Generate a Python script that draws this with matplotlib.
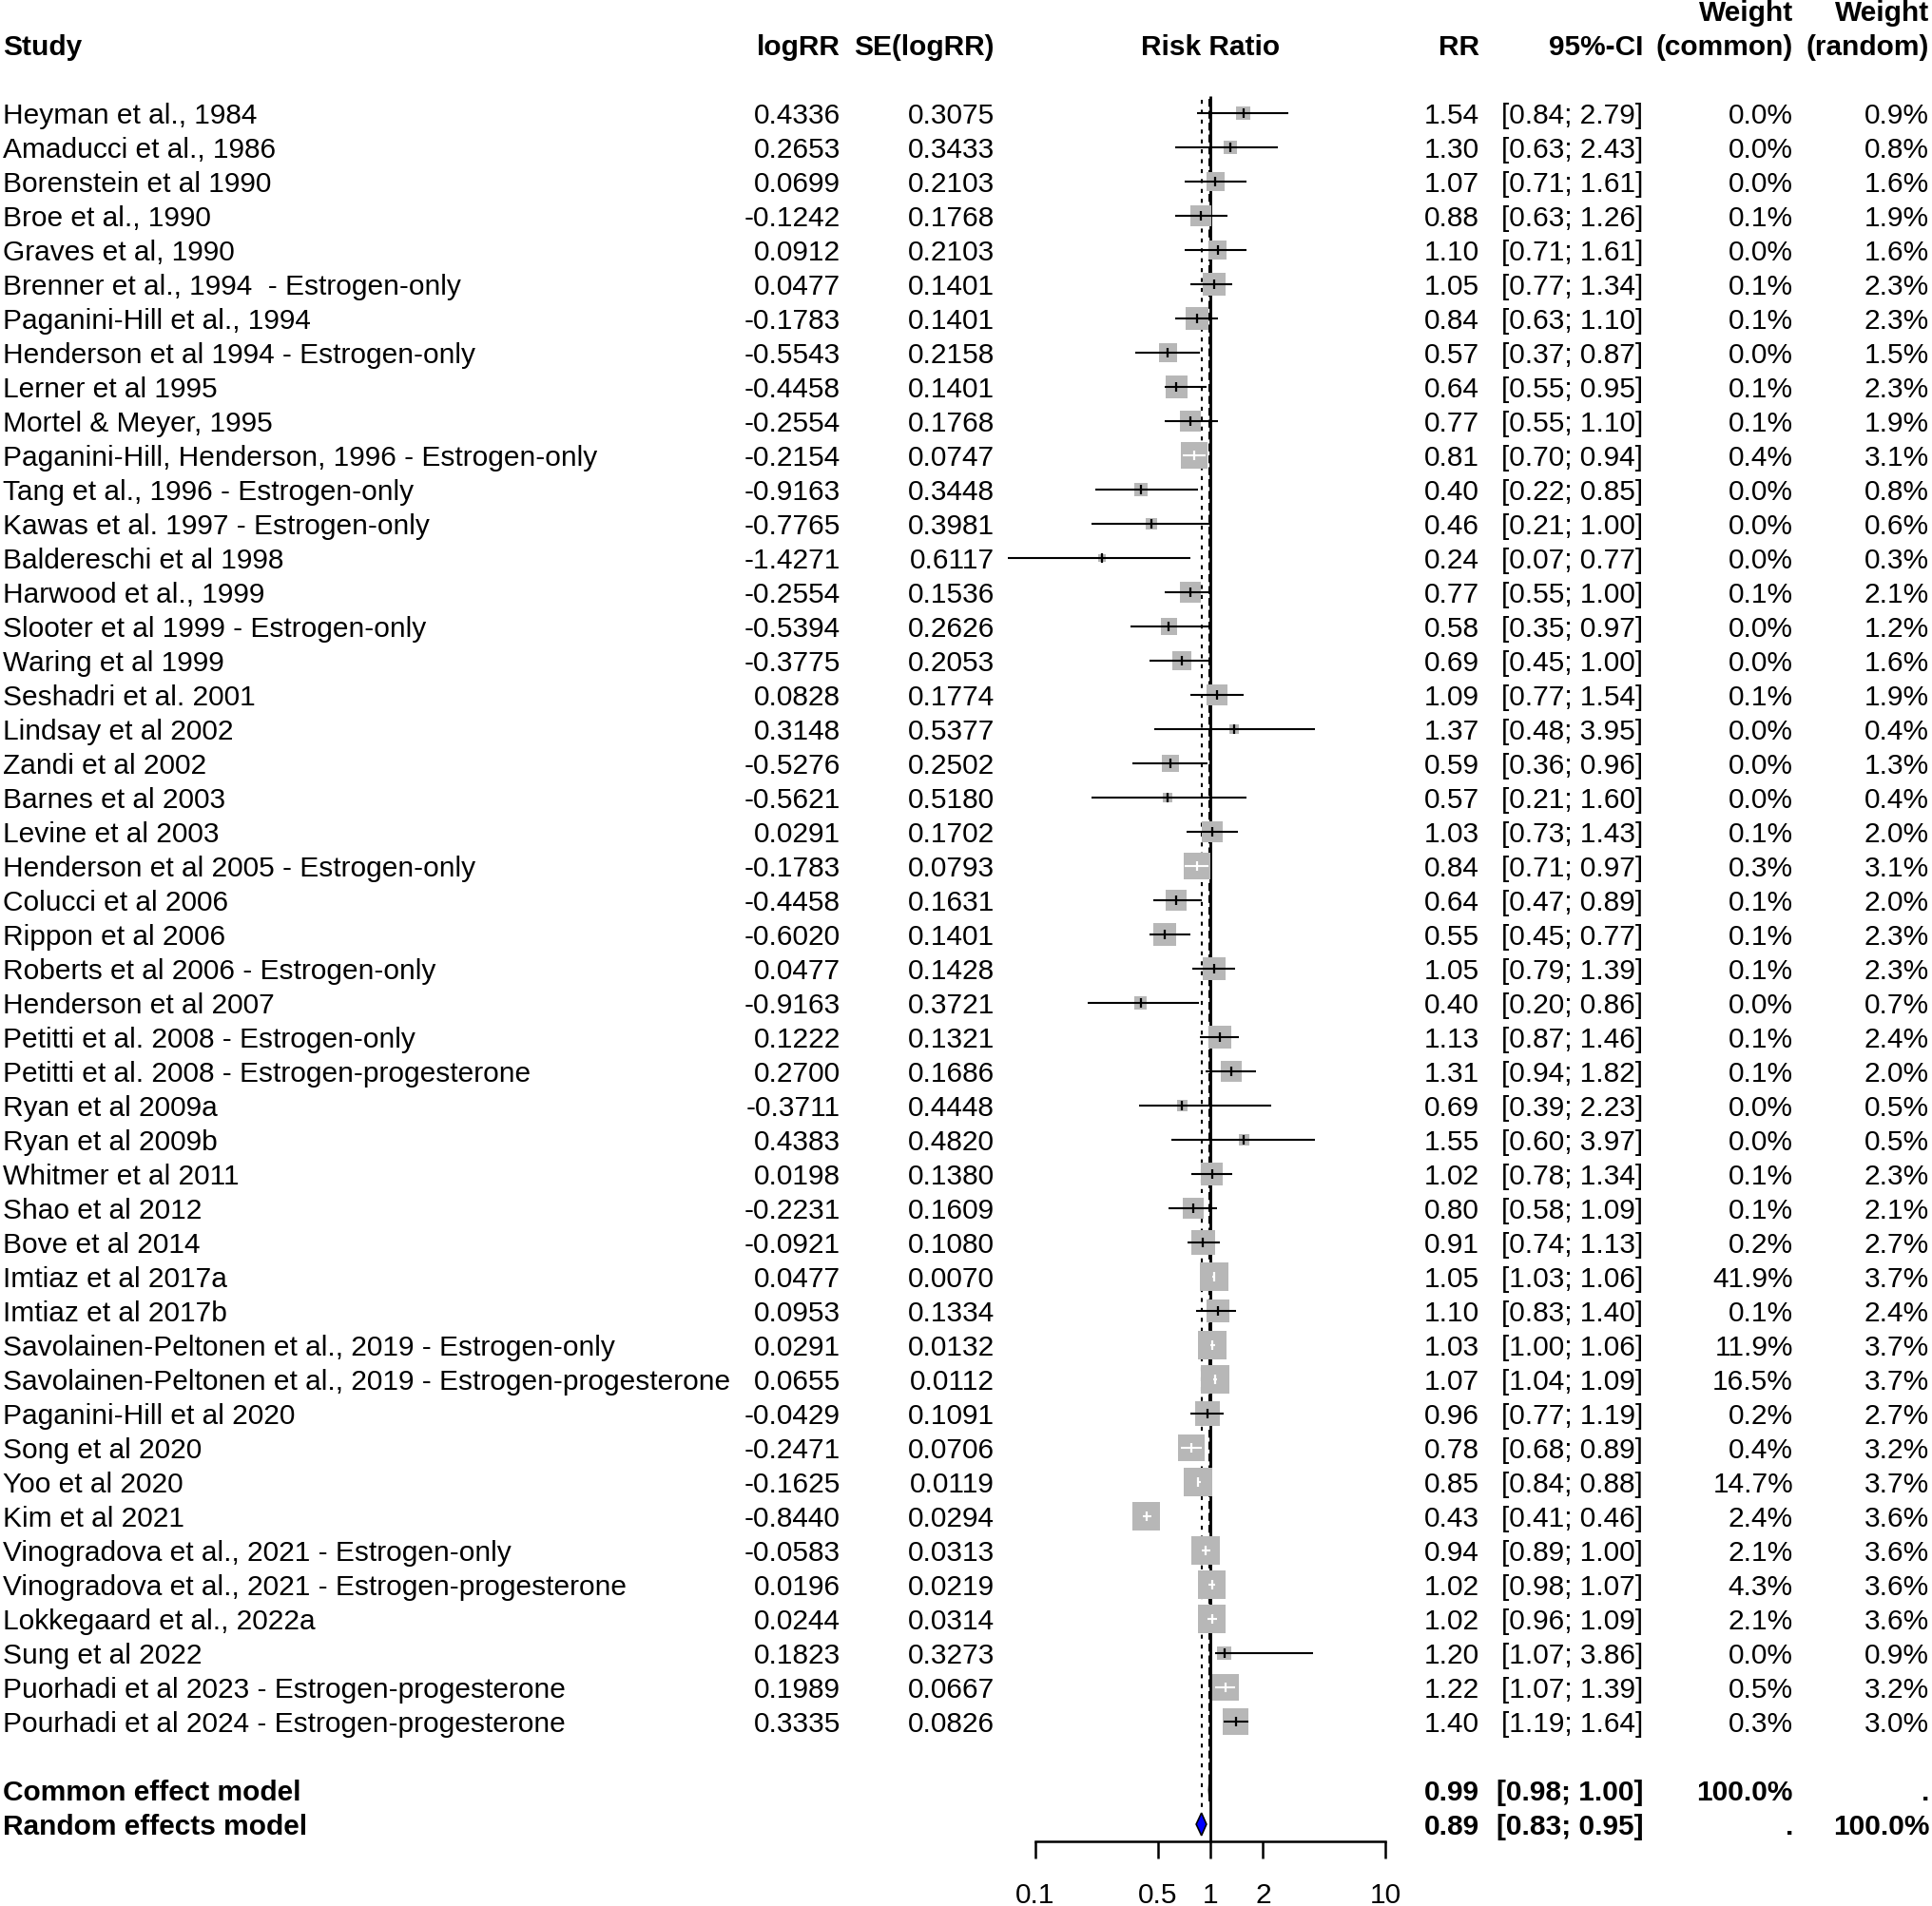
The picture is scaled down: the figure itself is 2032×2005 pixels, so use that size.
import numpy as np
import matplotlib
matplotlib.use("Agg")
import matplotlib.pyplot as plt
from matplotlib.patches import Polygon
from matplotlib.ticker import NullLocator

# --- data ---
studies = [
    "Heyman et al., 1984", "Amaducci et al., 1986", "Borenstein et al 1990",
    "Broe et al., 1990", "Graves et al, 1990", "Brenner et al., 1994  - Estrogen-only",
    "Paganini-Hill et al., 1994", "Henderson et al 1994 - Estrogen-only",
    "Lerner et al 1995", "Mortel & Meyer, 1995",
    "Paganini-Hill, Henderson, 1996 - Estrogen-only", "Tang et al., 1996 - Estrogen-only",
    "Kawas et al. 1997 - Estrogen-only", "Baldereschi et al 1998", "Harwood et al., 1999",
    "Slooter et al 1999 - Estrogen-only", "Waring et al 1999", "Seshadri et al. 2001",
    "Lindsay et al 2002", "Zandi et al 2002", "Barnes et al 2003", "Levine et al 2003",
    "Henderson et al 2005 - Estrogen-only", "Colucci et al 2006", "Rippon et al 2006",
    "Roberts et al 2006 - Estrogen-only", "Henderson et al 2007",
    "Petitti et al. 2008 - Estrogen-only", "Petitti et al. 2008 - Estrogen-progesterone",
    "Ryan et al 2009a", "Ryan et al 2009b", "Whitmer et al 2011", "Shao et al 2012",
    "Bove et al 2014", "Imtiaz et al 2017a", "Imtiaz et al 2017b",
    "Savolainen-Peltonen et al., 2019 - Estrogen-only",
    "Savolainen-Peltonen et al., 2019 - Estrogen-progesterone",
    "Paganini-Hill et al 2020", "Song et al 2020", "Yoo et al 2020", "Kim et al 2021",
    "Vinogradova et al., 2021 - Estrogen-only",
    "Vinogradova et al., 2021 - Estrogen-progesterone", "Lokkegaard et al., 2022a",
    "Sung et al 2022", "Puorhadi et al 2023 - Estrogen-progesterone",
    "Pourhadi et al 2024 - Estrogen-progesterone",
]
log_rr = [0.4336, 0.2653, 0.0699, -0.1242, 0.0912, 0.0477, -0.1783, -0.5543, -0.4458,
          -0.2554, -0.2154, -0.9163, -0.7765, -1.4271, -0.2554, -0.5394, -0.3775, 0.0828,
          0.3148, -0.5276, -0.5621, 0.0291, -0.1783, -0.4458, -0.6020, 0.0477, -0.9163,
          0.1222, 0.2700, -0.3711, 0.4383, 0.0198, -0.2231, -0.0921, 0.0477, 0.0953,
          0.0291, 0.0655, -0.0429, -0.2471, -0.1625, -0.8440, -0.0583, 0.0196, 0.0244,
          0.1823, 0.1989, 0.3335]
se_log_rr = [0.3075, 0.3433, 0.2103, 0.1768, 0.2103, 0.1401, 0.1401, 0.2158, 0.1401,
             0.1768, 0.0747, 0.3448, 0.3981, 0.6117, 0.1536, 0.2626, 0.2053, 0.1774,
             0.5377, 0.2502, 0.5180, 0.1702, 0.0793, 0.1631, 0.1401, 0.1428, 0.3721,
             0.1321, 0.1686, 0.4448, 0.4820, 0.1380, 0.1609, 0.1080, 0.0070, 0.1334,
             0.0132, 0.0112, 0.1091, 0.0706, 0.0119, 0.0294, 0.0313, 0.0219, 0.0314,
             0.3273, 0.0667, 0.0826]
rr = [1.54, 1.30, 1.07, 0.88, 1.10, 1.05, 0.84, 0.57, 0.64, 0.77, 0.81, 0.40, 0.46, 0.24,
      0.77, 0.58, 0.69, 1.09, 1.37, 0.59, 0.57, 1.03, 0.84, 0.64, 0.55, 1.05, 0.40, 1.13,
      1.31, 0.69, 1.55, 1.02, 0.80, 0.91, 1.05, 1.10, 1.03, 1.07, 0.96, 0.78, 0.85, 0.43,
      0.94, 1.02, 1.02, 1.20, 1.22, 1.40]
ci_lower = [0.84, 0.63, 0.71, 0.63, 0.71, 0.77, 0.63, 0.37, 0.55, 0.55, 0.70, 0.22, 0.21,
            0.07, 0.55, 0.35, 0.45, 0.77, 0.48, 0.36, 0.21, 0.73, 0.71, 0.47, 0.45, 0.79,
            0.20, 0.87, 0.94, 0.39, 0.60, 0.78, 0.58, 0.74, 1.03, 0.83, 1.00, 1.04, 0.77,
            0.68, 0.84, 0.41, 0.89, 0.98, 0.96, 1.07, 1.07, 1.19]
ci_upper = [2.79, 2.43, 1.61, 1.26, 1.61, 1.34, 1.10, 0.87, 0.95, 1.10, 0.94, 0.85, 1.00,
            0.77, 1.00, 0.97, 1.00, 1.54, 3.95, 0.96, 1.60, 1.43, 0.97, 0.89, 0.77, 1.39,
            0.86, 1.46, 1.82, 2.23, 3.97, 1.34, 1.09, 1.13, 1.06, 1.40, 1.06, 1.09, 1.19,
            0.89, 0.88, 0.46, 1.00, 1.07, 1.09, 3.86, 1.39, 1.64]
w_common = [0.0, 0.0, 0.0, 0.1, 0.0, 0.1, 0.1, 0.0, 0.1, 0.1, 0.4, 0.0, 0.0, 0.0, 0.1, 0.0,
            0.0, 0.1, 0.0, 0.0, 0.0, 0.1, 0.3, 0.1, 0.1, 0.1, 0.0, 0.1, 0.1, 0.0, 0.0, 0.1,
            0.1, 0.2, 41.9, 0.1, 11.9, 16.5, 0.2, 0.4, 14.7, 2.4, 2.1, 4.3, 2.1, 0.0, 0.5, 0.3]
w_random = [0.9, 0.8, 1.6, 1.9, 1.6, 2.3, 2.3, 1.5, 2.3, 1.9, 3.1, 0.8, 0.6, 0.3, 2.1, 1.2,
            1.6, 1.9, 0.4, 1.3, 0.4, 2.0, 3.1, 2.0, 2.3, 2.3, 0.7, 2.4, 2.0, 0.5, 0.5, 2.3,
            2.1, 2.7, 3.7, 2.4, 3.7, 3.7, 2.7, 3.2, 3.7, 3.6, 3.6, 3.6, 3.6, 0.9, 3.2, 3.0]

model_names = ["Common effect model", "Random effects model"]
model_rr = [0.99, 0.89]
model_lower = [0.98, 0.83]
model_upper = [1.00, 0.95]
model_w_common = ["100.0%", "."]
model_w_random = [".", "100.0%"]

axis_ticks = [0.1, 0.5, 1, 2, 10]
axis_tick_labels = ["0.1", "0.5", "1", "2", "10"]

# --- layout (pixels of the 2032x2005 canvas) ---
W, H, DPI = 2032, 2005, 100
ROW0, ROW_H = 119, 36
FS = 21.5
FONT = ["Liberation Sans", "DejaVu Sans"]
X_STUDY, X_LOGRR, X_SE, X_RR, X_CI, X_WC, X_WR = 3, 884, 1046, 1556, 1728, 1886, 2029
FOREST_L, FOREST_R = 1089, 1457          # pixel span of 0.1 .. 10
PX_PER_DECADE = (FOREST_R - FOREST_L) / 2.0
BOX_K = 15.6                               # square side (px) per sqrt(weight)
GREY = "#b7b7b7"

r_top = -ROW0 / ROW_H
r_bot = (H - ROW0) / ROW_H
n = len(studies)
r_common, r_random = n + 1, n + 2
r_axis = n + 2.5

fig = plt.figure(figsize=(W / DPI, H / DPI), dpi=DPI, facecolor="white")
ax = fig.add_axes([0, 0, 1, 1])
ax.set_xlim(0, W)
ax.set_ylim(r_bot, r_top)
ax.axis("off")


def txt(x, r, s, ha="right", bold=False):
    ax.text(x, r, s, ha=ha, va="center_baseline", fontsize=FS, family=FONT,
            fontweight="bold" if bold else "normal")


# header
txt(X_STUDY, -2, "Study", ha="left", bold=True)
txt(X_LOGRR, -2, "logRR", bold=True)
txt(X_SE, -2, "SE(logRR)", bold=True)
txt((FOREST_L + FOREST_R) / 2, -2, "Risk Ratio", ha="center", bold=True)
txt(X_RR, -2, "RR", bold=True)
txt(X_CI, -2, "95%-CI", bold=True)
txt(X_WC, -3, "Weight", bold=True)
txt(X_WC, -2, "(common)", bold=True)
txt(X_WR, -3, "Weight", bold=True)
txt(X_WR, -2, "(random)", bold=True)

# study rows
for i in range(n):
    txt(X_STUDY, i, studies[i], ha="left")
    txt(X_LOGRR, i, f"{log_rr[i]:.4f}")
    txt(X_SE, i, f"{se_log_rr[i]:.4f}")
    txt(X_RR, i, f"{rr[i]:.2f}")
    txt(X_CI, i, f"[{ci_lower[i]:.2f}; {ci_upper[i]:.2f}]")
    txt(X_WC, i, f"{w_common[i]:.1f}%")
    txt(X_WR, i, f"{w_random[i]:.1f}%")

# pooled rows
for j, r in enumerate([r_common, r_random]):
    txt(X_STUDY, r, model_names[j], ha="left", bold=True)
    txt(X_RR, r, f"{model_rr[j]:.2f}", bold=True)
    txt(X_CI, r, f"[{model_lower[j]:.2f}; {model_upper[j]:.2f}]", bold=True)
    txt(X_WC, r, model_w_common[j], bold=True)
    txt(X_WR, r, model_w_random[j], bold=True)

# --- forest panel on a log axis ---
axf = fig.add_axes([FOREST_L / W, 0, (FOREST_R - FOREST_L) / W, 1])
axf.set_xscale("log")
axf.set_xlim(0.1, 10)
axf.set_ylim(r_bot, r_top)
axf.patch.set_alpha(0)
for s in ["left", "right", "top"]:
    axf.spines[s].set_visible(False)
axf.spines["bottom"].set_position(("data", r_axis))
axf.spines["bottom"].set_bounds(0.1, 10)
axf.spines["bottom"].set_linewidth(1.8)
axf.set_yticks([])
axf.set_xticks(axis_ticks, axis_tick_labels)
axf.xaxis.set_minor_locator(NullLocator())
axf.tick_params(axis="x", direction="out", length=13, width=1.8, pad=18,
                labelsize=FS)
for lab in axf.get_xticklabels():
    lab.set_family(FONT)

# reference and pooled lines
axf.vlines(1, -0.5, r_axis, color="black", lw=2, zorder=1, clip_on=False)
axf.vlines(model_rr[0], -0.42, r_common - 0.33, color="black", lw=1.5,
           linestyles=[(0, (4, 2))], zorder=1, clip_on=False)
axf.vlines(model_rr[1], -0.38, r_random - 0.33, color="black", lw=1.5,
           linestyles=[(0, (2, 3))], zorder=1, clip_on=False)

rows = np.arange(n)
w_r = np.array(w_random)
side_px = BOX_K * np.sqrt(w_r)
side_pt = side_px * 72 / DPI
axf.scatter(rr, rows, s=side_pt ** 2, marker="s", color=GREY, linewidths=0,
            zorder=2, clip_on=False)

span_px = (np.log10(ci_upper) - np.log10(ci_lower)) * PX_PER_DECADE
inside = span_px <= 0.93 * side_px
line_cols = ["white" if k else "black" for k in inside]
axf.hlines(rows, ci_lower, ci_upper, colors=line_cols, lw=1.5, zorder=3, clip_on=False)
axf.scatter(rr, rows, s=48, marker="|", c=line_cols, linewidths=1.6, zorder=4,
            clip_on=False)

# pooled diamonds
for j, r in enumerate([r_common, r_random]):
    verts = [(model_lower[j], r), (model_rr[j], r - 0.33),
             (model_upper[j], r), (model_rr[j], r + 0.33)]
    axf.add_patch(Polygon(verts, closed=True, facecolor=["gray", "blue"][j],
                          edgecolor="black", lw=1.2, zorder=5, clip_on=False))

fig.savefig("out.png", dpi=DPI, facecolor="white")
